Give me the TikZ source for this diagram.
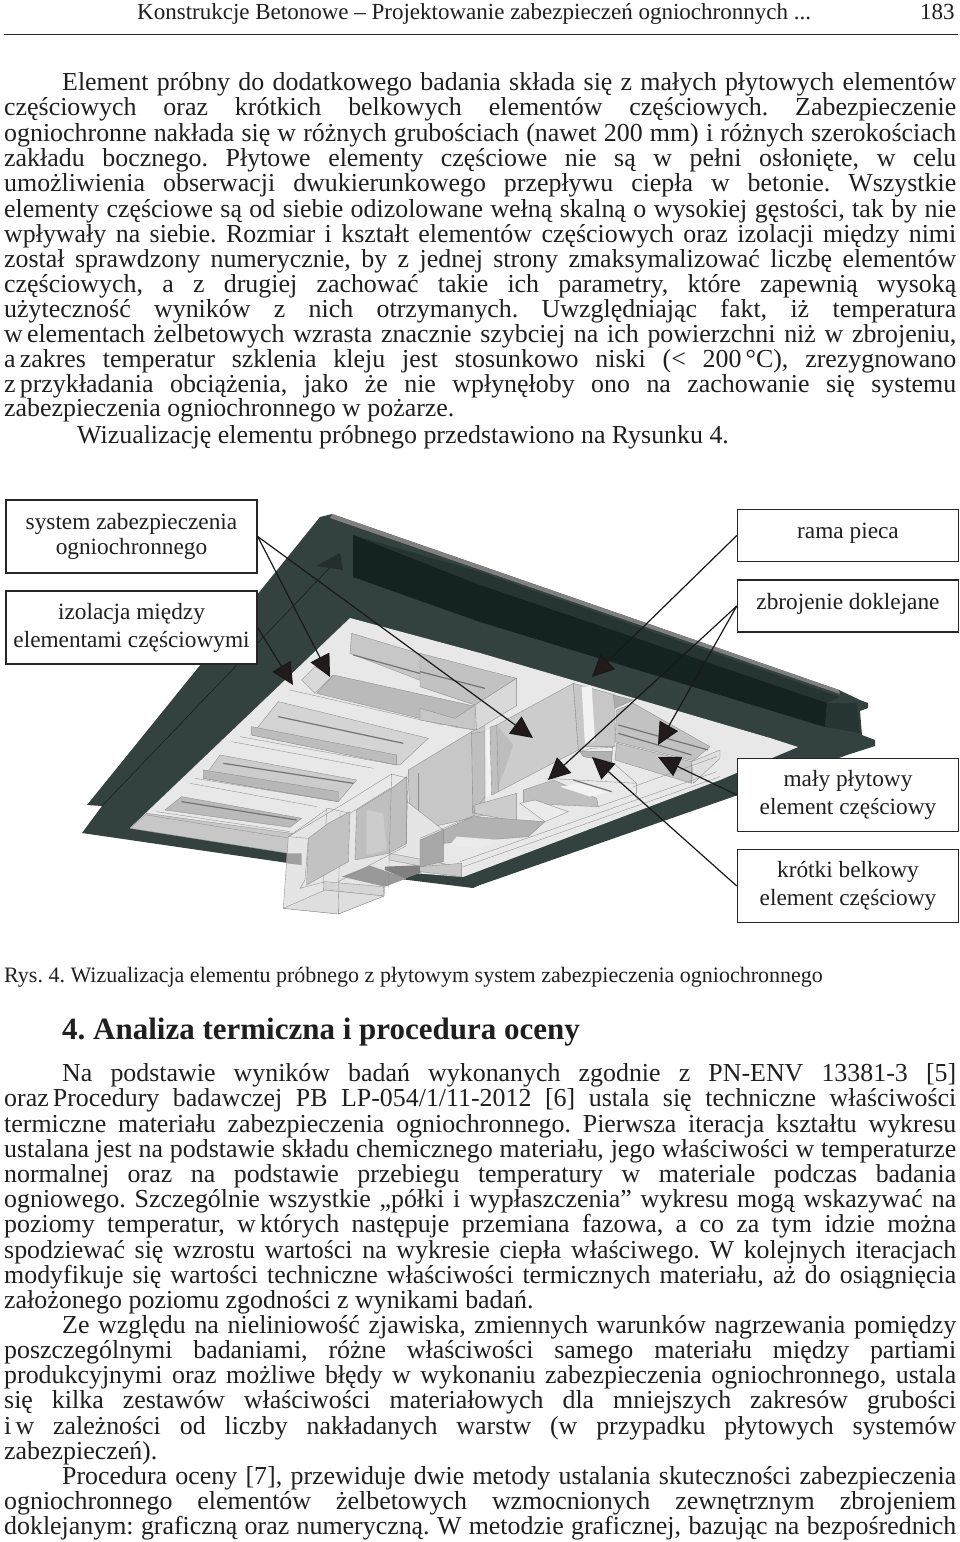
\documentclass[tikz,border=0pt]{standalone}
\usepackage{fontspec}
\setmainfont{Liberation Serif}
\usetikzlibrary{arrows.meta,calc}
\newcounter{ln}
\frenchspacing
\definecolor{frameD}{HTML}{33423F}
\definecolor{chanD}{HTML}{142321}
\definecolor{flangeD}{HTML}{263533}
\definecolor{headD}{HTML}{231A1C}
\tikzset{
  txt/.style={anchor=base west,inner sep=0pt,font=\fontsize{25.9}{27}\selectfont,text=black!88},
  lab/.style={draw=black!85,line width=1.4pt,fill=white,align=center,inner sep=0pt,font=\fontsize{23.3}{28}\selectfont,text=black!88},
  ptr/.style={draw=black!90,line width=1.2pt,-{Triangle[length=22pt,width=21pt,fill=headD]}},
  edge/.style={draw=black!45,line width=.35pt},
  pl/.style={fill=#1,draw=black!45,line width=.35pt},
  slit/.style={draw=black!55,line width=1.2pt},
  Za/.style={shift={(0,490)},x=.3333pt,y=-.3333pt},
  Zb/.style={shift={(480,490)},x=.3333pt,y=-.3333pt},
  Zc/.style={shift={(420,640)},x=.3333pt,y=-.3333pt},
  Zd/.style={shift={(270,770)},x=.3333pt,y=-.3333pt},
}
\newcommand{\jl}[2]{\stepcounter{ln}\node[txt] (line\arabic{ln}) at (4,#1) {\makebox[952pt][s]{#2}};}
\newcommand{\il}[2]{\stepcounter{ln}\node[txt] (line\arabic{ln}) at (62,#1) {\makebox[894pt][s]{#2}};}
\newcommand{\nl}[3]{\stepcounter{ln}\node[txt] (line\arabic{ln}) at (#1,#2) {#3};}
\newcommand{\ts}{\hspace{.16em}}
\begin{document}
\begin{tikzpicture}[x=1pt,y=-1pt]
\useasboundingbox (0,0) rectangle (960,1542);
\fill[white] (0,0) rectangle (960,1542);
% header
\nl{137}{19}{\fontsize{23}{25}\selectfont Konstrukcje Betonowe – Projektowanie zabezpieczeń ogniochronnych ...}
\nl{920}{19}{\fontsize{23}{25}\selectfont 183}
\draw[black!85,line width=1pt] (4,34) -- (958,34);
% body 1
\il{90}{Element próbny do dodatkowego badania składa się z małych płytowych elementów}
\jl{115}{częściowych oraz krótkich belkowych elementów częściowych. Zabezpieczenie}
\jl{141}{ogniochronne nakłada się w różnych grubościach (nawet 200 mm) i różnych szerokościach}
\jl{166}{zakładu bocznego. Płytowe elementy częściowe nie są w pełni osłonięte, w celu}
\jl{191}{umożliwienia obserwacji dwukierunkowego przepływu ciepła w betonie. Wszystkie}
\jl{217}{elementy częściowe są od siebie odizolowane wełną skalną o wysokiej gęstości, tak by nie}
\jl{242}{wpływały na siebie. Rozmiar i kształt elementów częściowych oraz izolacji między nimi}
\jl{267}{został sprawdzony numerycznie, by z jednej strony zmaksymalizować liczbę elementów}
\jl{292}{częściowych, a z drugiej zachować takie ich parametry, które zapewnią wysoką}
\jl{317}{użyteczność wyników z nich otrzymanych. Uwzględniając fakt, iż temperatura}
\jl{342}{w\ts elementach żelbetowych wzrasta znacznie szybciej na ich powierzchni niż w zbrojeniu,}
\jl{367}{a\ts zakres temperatur szklenia kleju jest stosunkowo niski (< 200\ts °C), zrezygnowano}
\jl{392}{z\ts przykładania obciążenia, jako że nie wpłynęłoby ono na zachowanie się systemu}
\nl{4}{416}{zabezpieczenia ogniochronnego w pożarze.}
\nl{77}{443}{Wizualizację elementu próbnego przedstawiono na Rysunku 4.}
% figure: frame
\fill[frameD] (320,517) -- (332,514) -- (839,690) -- (860,700) -- (868,703) -- (868,708) -- (860,711) -- (862,735) -- (875,740) -- (875,746) -- (847,755) -- (738,795) -- (480,885) -- (473,888) -- (408,880) -- (288,863) -- (82,833) -- (102,806) -- (87,805) -- cycle;
\fill[black!50] (332,514) -- (839,690) -- (840,694) -- (330,518) -- cycle;
\fill[flangeD] (353,535) -- (480,572) -- (840,697) -- (827,703) -- (480,585) -- cycle;
\fill[chanD] (353,535) -- (480,585) -- (827,703) -- (825,727) -- (480,622) -- (353,577) -- cycle;
\fill[flangeD] (827,703) -- (857,703) -- (860,733) -- (825,727) -- cycle;
\draw[black!55!frameD,line width=.6pt] (102,806) -- (340,557);
\fill[black!30!frameD] (316,566) -- (340,553) -- (343,570) -- cycle;
% plate
\fill[black!9] (350,618) -- (480,653) -- (770,738) -- (798,747) -- (720,780) -- (463,877) -- (413,873) -- (288,853) -- (130,828) -- cycle;
\begin{scope}[Za]
\path[pl=black!22] (390,1015) -- (440,970) -- (945,1040) -- (865,1090) -- cycle;
\draw[edge] (440,975) -- (870,1045);
\draw[edge] (570,880) -- (950,950);
\draw[edge] (695,755) -- (1120,835);
\draw[edge] (870,600) -- (1330,705);
\draw[edge] (720,740) -- (1190,825);
\draw[edge] (585,865) -- (1015,935);
\draw[edge] (470,965) -- (870,1025);
% bay 4
\path[pl=black!27] (495,960) -- (545,920) -- (905,985) -- (870,1012) -- cycle;
\draw[slit] (545,935) -- (890,990);
% bay 3
\path[pl=black!20] (660,795) -- (1070,870) -- (1015,935) -- (610,865) -- cycle;
\path[pl=black!28] (610,840) -- (1015,905) -- (1015,935) -- (610,865) -- cycle;
\draw[slit] (670,820) -- (1060,880);
% bay 2
\path[pl=black!17] (835,635) -- (1285,745) -- (1200,825) -- (755,735) -- cycle;
\path[pl=black!26] (755,710) -- (1190,795) -- (1190,825) -- (755,735) -- cycle;
\draw[slit] (835,680) -- (1210,760);
% bay 1
\path[pl=black!22] (1055,430) -- (1440,545) -- (1440,640) -- (1050,490) -- cycle;
\path[pl=black!27] (950,610) -- (1000,555) -- (1430,650) -- (1370,712) -- cycle;
\path[pl=black!15] (905,570) -- (945,530) -- (995,560) -- (945,610) -- cycle;
\draw[slit] (1060,495) -- (1440,600);
\draw[edge] (1425,650) -- (1425,720) -- (1370,712);
% left wall of the beam
\path[pl=black!22] (1225,840) -- (1415,725) -- (1455,700) -- (1455,975) -- (1255,1020) -- (1230,1010) -- cycle;
\draw[edge] (1255,850) -- (1255,1020);
\draw[edge] (1415,725) -- (1420,970);
\end{scope}
\begin{scope}[Zb]
\path[pl=black!20] (0,545) -- (110,570) -- (110,580) -- (70,650) -- (0,625) -- cycle;
\end{scope}
% protruding transparent box
\begin{scope}[Zd]
\path[pl=black!10] (55,200) -- (175,115) -- (240,130) -- (360,55) -- (520,180) -- (515,282) -- (345,348) -- (342,378) -- (205,432) -- (40,415) -- cycle;
\path[pl=black!16] (165,335) -- (340,350) -- (342,378) -- (165,360) -- cycle;
\path[pl=black!13] (40,415) -- (165,360) -- (342,378) -- (205,432) -- cycle;
\fill[black!42,opacity=.85] (50,250) -- (95,250) -- (95,285) -- (50,280) -- cycle;
\fill[black!40] (215,320) -- (300,287) -- (410,325) -- (345,350) -- cycle;
\fill[black!50] (345,290) -- (515,283) -- (405,325) -- (345,300) -- cycle;
\path[pl=black!16] (360,250) -- (515,280) -- (570,290) -- (570,320) -- (510,300) -- (360,270) -- cycle;
\draw[edge] (55,200) -- (115,205) -- (105,330) -- (90,355) -- (165,335);
\draw[edge] (160,360) -- (170,115);
\draw[edge] (205,432) -- (210,130);
\path[pl=black!24] (115,205) -- (175,160) -- (240,125) -- (235,275) -- (110,345) -- cycle;
\path[pl=black!25] (260,120) -- (365,55) -- (410,20) -- (410,220) -- (355,250) -- (255,270) -- cycle;
\fill[black!20] (290,120) -- (340,130) -- (350,240) -- (290,255) -- cycle;
\draw[edge] (215,105) -- (365,12) -- (415,25);
\draw[edge] (365,12) -- (355,350);
\draw[edge] (415,0) -- (408,228) -- (205,335);
\draw[edge] (55,200) -- (215,105);
\end{scope}
% central walls
\begin{scope}[Zc]
\path[pl=black!20] (230,255) -- (460,130) -- (475,330) -- (235,455) -- cycle;
\fill[black!26] (230,255) -- (280,315) -- (250,400) -- (235,440) -- cycle;
\path[pl=black!22] (460,130) -- (585,165) -- (585,320) -- (495,320) -- (475,330) -- cycle;
\fill[black!5] (485,140) -- (515,140) -- (525,300) -- (495,315) -- cycle;
\fill[black!5] (195,275) -- (210,265) -- (215,470) -- (197,470) -- cycle;
\path[pl=black!25] (210,262) -- (230,255) -- (235,455) -- (215,465) -- cycle;
\path[pl=black!25] (155,280) -- (195,275) -- (195,470) -- (158,520) -- cycle;
\path[pl=black!8] (480,335) -- (515,325) -- (578,322) -- (575,365) -- (520,355) -- cycle;
\path[pl=black!30] (480,335) -- (575,335) -- (575,365) -- (490,350) -- cycle;
% upper element end
\path[pl=black!24] (0,40) -- (290,115) -- (165,195) -- (0,140) -- cycle;
\path[pl=black!15] (165,195) -- (290,115) -- (290,197) -- (170,270) -- cycle;
\path[pl=black!22] (0,205) -- (105,235) -- (165,195) -- (165,270) -- (0,240) -- cycle;
\draw[slit] (0,95) -- (195,145);
% right elements
\path[pl=black!32] (580,165) -- (640,180) -- (585,205) -- cycle;
\path[pl=black!24] (590,210) -- (640,190) -- (870,320) -- (820,362) -- (585,305) -- cycle;
\draw[slit] (595,255) -- (865,330);
\draw[slit] (595,280) -- (815,345);
\path[pl=black!23] (590,310) -- (815,365) -- (815,430) -- (585,360) -- cycle;
\path[pl=black!13] (815,365) -- (900,330) -- (900,355) -- (820,430) -- cycle;
\draw[edge] (575,365) -- (650,430) -- (650,460);
\draw[edge] (640,440) -- (890,350);
% bottom centre cluster
\path[pl=black!25] (310,450) -- (400,420) -- (530,475) -- (535,500) -- (310,490) -- cycle;
\fill[black!5] (420,440) -- (480,430) -- (570,455) -- (510,470) -- cycle;
\draw[slit] (460,420) -- (575,455);
\draw[edge] (535,500) -- (650,460);
\draw[edge] (380,415) -- (650,430);
\path[pl=black!20] (165,495) -- (290,460) -- (290,545) -- (165,520) -- cycle;
\path[pl=black!30] (70,570) -- (160,530) -- (375,545) -- (325,590) -- (70,610) -- cycle;
\path[pl=black!8] (300,490) -- (345,480) -- (445,515) -- (375,545) -- cycle;
\path[pl=black!34] (0,600) -- (70,570) -- (70,665) -- (0,680) -- cycle;
\fill[black!8] (110,590) -- (240,600) -- (180,625) -- (90,615) -- cycle;
\path[pl=black!22] (0,680) -- (125,670) -- (125,710) -- (0,695) -- cycle;
\draw[edge] (130,680) -- (900,410);
\draw[edge] (120,665) -- (890,395);
\draw[edge] (160,495) -- (165,525) -- (0,595);
\end{scope}
% labels
\node[lab,minimum width=251pt,minimum height=73pt] (sys) at (131.5,536.5) {\raisebox{1pt}{\shortstack{system zabezpieczenia\\[1pt]ogniochronnego}}};
\node[lab,minimum width=251pt,minimum height=73pt] (izol) at (131.5,627.5) {izolacja między\\elementami częściowymi};
\node[lab,minimum width=221pt,minimum height=52pt] (rama) at (848,535.5) {\raisebox{9pt}{rama pieca}};
\node[lab,minimum width=221pt,minimum height=52pt] (zbroj) at (848,606) {\raisebox{9pt}{zbrojenie doklejane}};
\node[lab,minimum width=221pt,minimum height=73pt] (maly) at (848,795) {mały płytowy\\element częściowy};
\node[lab,minimum width=221pt,minimum height=73pt] (krotki) at (848,886) {krótki belkowy\\element częściowy};
% pointer targets
\coordinate (t1) at (330,677);
\coordinate (t2) at (533,738);
\coordinate (t3) at (293,685);
\coordinate (t4) at (592,677);
\coordinate (t5) at (548,780);
\coordinate (t6) at (658,745);
\coordinate (t7) at (658,757);
\coordinate (t8) at (592,757);
\draw[ptr] (sys.east) -- (t1);
\draw[ptr] (sys.east) -- (t2);
\draw[ptr] (izol.east) -- (t3);
\draw[ptr] (rama.west) -- (t4);
\draw[ptr] (zbroj.west) -- (t5);
\draw[ptr] (zbroj.west) -- (t6);
\draw[ptr] (maly.west) -- (t7);
\draw[ptr] (krotki.west) -- (t8);
% caption and heading
\nl{4}{982}{\fontsize{22}{24}\selectfont Rys. 4. Wizualizacja elementu próbnego z płytowym system zabezpieczenia ogniochronnego}
\nl{62}{1039}{\fontsize{31}{33}\selectfont\bfseries 4. Analiza termiczna i procedura oceny}
% body 2
\il{1081}{Na podstawie wyników badań wykonanych zgodnie z PN-ENV 13381-3 [5]}
\jl{1106}{oraz\ts Procedury badawczej PB LP-054/1/11-2012 [6] ustala się techniczne właściwości}
\jl{1132}{termiczne materiału zabezpieczenia ogniochronnego. Pierwsza iteracja kształtu wykresu}
\jl{1157}{ustalana jest na podstawie składu chemicznego materiału, jego właściwości w temperaturze}
\jl{1182}{normalnej oraz na podstawie przebiegu temperatury w materiale podczas badania}
\jl{1207}{ogniowego. Szczególnie wszystkie „półki i wypłaszczenia” wykresu mogą wskazywać na}
\jl{1232}{poziomy temperatur, w\ts których następuje przemiana fazowa, a co za tym idzie można}
\jl{1258}{spodziewać się wzrostu wartości na wykresie ciepła właściwego. W kolejnych iteracjach}
\jl{1283}{modyfikuje się wartości techniczne właściwości termicznych materiału, aż do osiągnięcia}
\nl{4}{1308}{założonego poziomu zgodności z wynikami badań.}
\il{1333}{Ze względu na nieliniowość zjawiska, zmiennych warunków nagrzewania pomiędzy}
\jl{1358}{poszczególnymi badaniami, różne właściwości samego materiału między partiami}
\jl{1383}{produkcyjnymi oraz możliwe błędy w wykonaniu zabezpieczenia ogniochronnego, ustala}
\jl{1408}{się kilka zestawów właściwości materiałowych dla mniejszych zakresów grubości}
\jl{1434}{i\ts w zależności od liczby nakładanych warstw (w przypadku płytowych systemów}
\nl{4}{1459}{zabezpieczeń).}
\il{1484}{Procedura oceny [7], przewiduje dwie metody ustalania skuteczności zabezpieczenia}
\jl{1509}{ogniochronnego elementów żelbetowych wzmocnionych zewnętrznym zbrojeniem}
\jl{1534}{doklejanym: graficzną oraz numeryczną. W metodzie graficznej, bazując na bezpośrednich}
\end{tikzpicture}
\end{document}
